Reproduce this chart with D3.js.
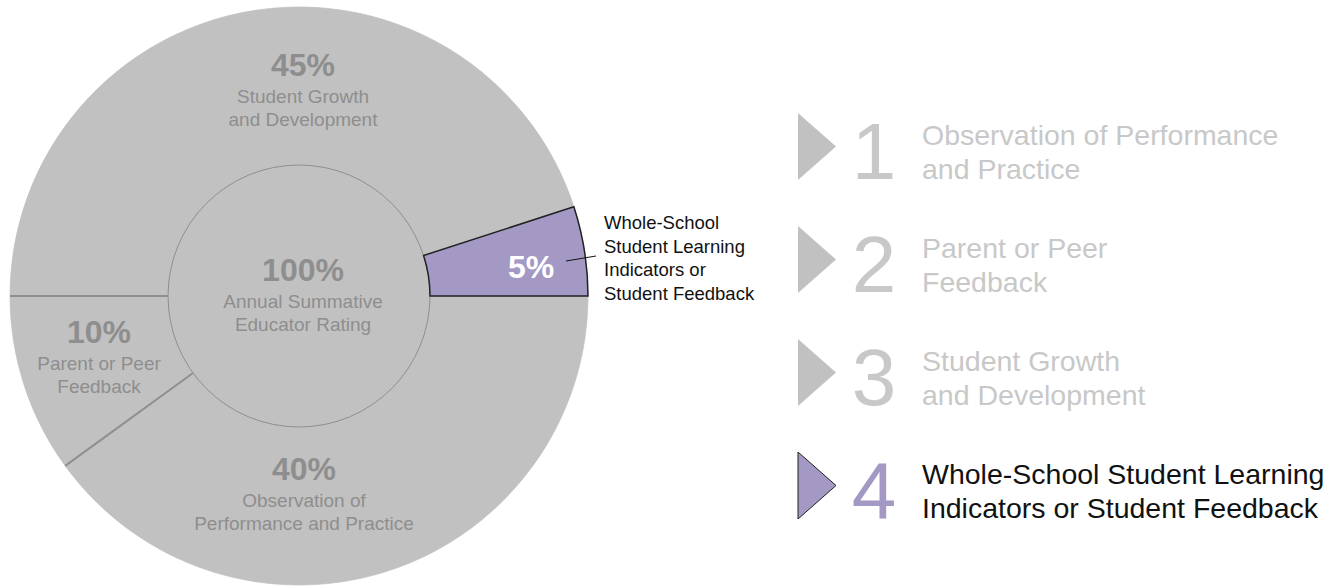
<!DOCTYPE html>
<html>
<head>
<meta charset="utf-8">
<script src="https://cdn.jsdelivr.net/npm/d3@7"></script>
<style>
  html, body { margin: 0; padding: 0; background: #fff; }
  svg, svg text { font-family: "Liberation Sans", Arimo, Arial, Helvetica, sans-serif; }
  svg { display: block; }
</style>
</head>
<body>
<svg id="chart" width="1343" height="586"></svg>
<script>
// ---- data ----
const categories = [
  "Observation of Performance and Practice",
  "Parent or Peer Feedback",
  "Student Growth and Development",
  "Whole-School Student Learning Indicators or Student Feedback"
];
const values = [40, 10, 45, 5];
const highlighted = [false, false, false, true];
const pieLabelLines = [
  ["Observation of", "Performance and Practice"],
  ["Parent or Peer", "Feedback"],
  ["Student Growth", "and Development"],
  []
];
const calloutLines = ["Whole-School", "Student Learning", "Indicators or", "Student Feedback"];
const centerValue = "100%";
const centerLines = ["Annual Summative", "Educator Rating"];
const legendNumbers = ["1", "2", "3", "4"];
const legendLines = [
  ["Observation of Performance", "and Practice"],
  ["Parent or Peer", "Feedback"],
  ["Student Growth", "and Development"],
  ["Whole-School Student Learning", "Indicators or Student Feedback"]
];

// ---- layout / style ----
const FONT = "'Liberation Sans', Arimo, Arial, Helvetica, sans-serif";
const cx = 299, cy = 296, rOuter = 289, rInner = 131;
const grey = "#c1c1c1", purple = "#a399c4", labelGrey = "#8e8e8e", lineGrey = "#8f8f8f", legendGrey = "#c8c8c8";
// label block offsets from pie centre (percent baseline)
const labelOffsets = [[5, 184], [-200, 47], [4, -220], [232, -18]];

const svg = d3.select("#chart").attr("font-family", FONT);
const g = svg.append("g").attr("transform", `translate(${cx},${cy})`);

const pie = d3.pie().sort(null).value(d => d).startAngle(Math.PI / 2).endAngle(Math.PI / 2 + 2 * Math.PI);
const arcs = pie(values);
const ringArc = d3.arc().innerRadius(rInner).outerRadius(rOuter);
const pt = (a, r) => [r * Math.sin(a), -r * Math.cos(a)];

// outer disc
g.append("circle").attr("r", rOuter).attr("fill", grey).attr("stroke", "#d2d2d2").attr("stroke-width", 1);

// grey ring slices
g.selectAll("path.slice").data(arcs.filter((d, i) => !highlighted[i])).join("path")
  .attr("class", "slice").attr("d", ringArc).attr("fill", grey);

// separator lines between grey slices
arcs.forEach((d, i) => {
  const prev = arcs[(i - 1 + arcs.length) % arcs.length];
  if (!highlighted[i] && !highlighted[prev.index]) {
    const a = pt(d.startAngle, rInner), b = pt(d.startAngle, rOuter);
    g.append("line").attr("x1", a[0]).attr("y1", a[1]).attr("x2", b[0]).attr("y2", b[1])
      .attr("stroke", lineGrey).attr("stroke-width", 2);
  }
});

// inner circle
g.append("circle").attr("r", rInner).attr("fill", grey).attr("stroke", lineGrey).attr("stroke-width", 1);

// highlighted slice
g.selectAll("path.hl").data(arcs.filter((d, i) => highlighted[i])).join("path")
  .attr("class", "hl").attr("d", ringArc).attr("fill", purple)
  .attr("stroke", "#222").attr("stroke-width", 1.5).attr("stroke-linejoin", "miter");

// slice labels
arcs.forEach((d, i) => {
  const [ox, oy] = labelOffsets[i];
  const t = g.append("g").attr("transform", `translate(${ox},${oy})`);
  t.append("text").attr("text-anchor", "middle").attr("font-size", 32).attr("font-weight", "bold")
    .attr("font-family", FONT)
    .attr("fill", highlighted[i] ? "#fff" : labelGrey).text(values[i] + "%");
  pieLabelLines[i].forEach((s, j) => {
    t.append("text").attr("text-anchor", "middle").attr("y", 27 + j * 23).attr("font-size", 19)
      .attr("font-family", FONT).attr("fill", labelGrey).text(s);
  });
});

// centre label
const c = g.append("g").attr("transform", "translate(4,-15)");
c.append("text").attr("text-anchor", "middle").attr("font-size", 32).attr("font-weight", "bold")
  .attr("font-family", FONT).attr("fill", labelGrey).text(centerValue);
centerLines.forEach((s, j) => c.append("text").attr("text-anchor", "middle").attr("y", 27 + j * 23)
  .attr("font-size", 19).attr("font-family", FONT).attr("fill", labelGrey).text(s));

// callout for highlighted slice
arcs.forEach((d, i) => {
  if (!highlighted[i]) return;
  g.append("line").attr("x1", 267).attr("y1", -35).attr("x2", 297).attr("y2", -40)
    .attr("stroke", "#111").attr("stroke-width", 1);
  calloutLines.forEach((s, j) => g.append("text").attr("x", 305).attr("y", -67 + j * 23.5)
    .attr("font-size", 18.5).attr("font-family", FONT).attr("fill", "#111").text(s));
});

// legend
const legend = svg.append("g");
const itemY = d3.scalePoint().domain(d3.range(categories.length)).range([0, 339]);
categories.forEach((cat, i) => {
  const top = 113 + itemY(i);
  const item = legend.append("g").attr("transform", `translate(0,${top})`);
  item.append("path").attr("d", d3.line()([[798, 0], [836, 33.5], [798, 67]]) + "Z")
    .attr("fill", highlighted[i] ? purple : grey)
    .attr("stroke", highlighted[i] ? "#222" : "none").attr("stroke-width", 1);
  item.append("text").attr("x", 874).attr("y", 66).attr("text-anchor", "middle")
    .attr("font-size", 80).attr("font-family", FONT)
    .attr("fill", highlighted[i] ? purple : legendGrey).text(legendNumbers[i]);
  legendLines[i].forEach((s, j) => item.append("text").attr("x", 922).attr("y", 32 + j * 34)
    .attr("font-size", 28.5).attr("font-family", FONT)
    .attr("fill", highlighted[i] ? "#111" : legendGrey).text(s));
});
</script>
</body>
</html>
